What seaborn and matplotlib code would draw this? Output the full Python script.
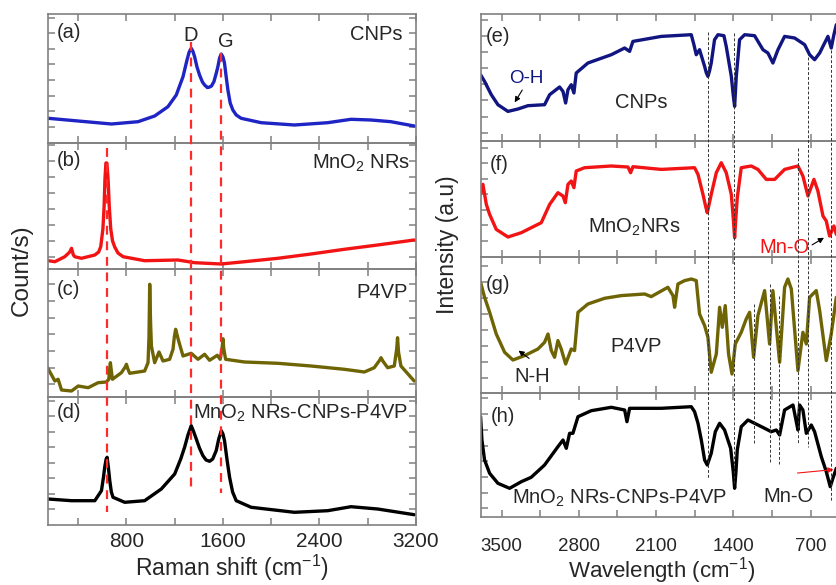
import numpy as np
import matplotlib
matplotlib.use('Agg')
import matplotlib.pyplot as plt
from matplotlib.ticker import MultipleLocator
import seaborn as sns

# ---- Raman spectra (wavenumber, height in arbitrary units) ----
cnp_raman_x = [152, 400, 676, 896, 1034, 1144, 1213, 1269, 1300, 1320, 1337, 1350, 1365, 1385, 1406,
               1430, 1448, 1470, 1484, 1505, 1525, 1545, 1558, 1572, 1586, 1600, 1613, 1627, 1641,
               1660, 1682, 1710, 1751, 1917, 2192, 2468, 2661, 2827, 2992, 3185]
cnp_raman_y = [24.7, 22, 19, 21.3, 27, 36.3, 48, 66.3, 82, 91, 94.7, 92, 86.3, 76, 68,
               61, 58, 55.5, 55.7, 57, 61.3, 70, 76.3, 85, 89, 86, 79.7, 66, 53,
               40, 33, 28, 24.7, 20.3, 18, 20.3, 23.7, 23, 21.3, 17]

mno2_raman_x = [152, 207, 289, 330, 345, 360, 372, 427, 538, 570, 587, 605, 615, 622, 630, 638,
                648, 658, 670, 685, 703, 730, 772, 951, 1227, 1365, 1586, 1779, 2055, 2330,
                2606, 2882, 3185]
mno2_raman_y = [8.3, 7.3, 12.3, 17, 20.7, 14, 12.3, 10.7, 14, 17, 22.3, 40, 62.3, 90, 106, 106,
                90, 62, 40, 28, 22, 16, 12.3, 8.3, 9, 6.3, 5, 7.3, 10.7, 15,
                19.7, 24, 29]

p4vp_raman_x = [146, 207, 234, 262, 345, 400, 483, 565, 634, 654, 661, 667, 673, 684, 758, 790, 800,
                812, 827, 951, 979, 987, 993, 1000, 1007, 1034, 1070, 1103, 1158, 1186, 1197, 1208,
                1220, 1233, 1269, 1337, 1393, 1448, 1489, 1553, 1577, 1594, 1600, 1607, 1622, 1779,
                2055, 2330, 2606, 2772, 2854, 2900, 2910, 2925, 2965, 3020, 3040, 3047, 3055, 3075,
                3185]
p4vp_raman_y = [29.3, 16, 17.7, 7, 6, 11, 9.3, 14.3, 15, 17.7, 28, 34.3, 28, 17.7, 24.3, 30, 32.7,
                28, 23.7, 26, 34.3, 60, 112.7, 75, 51, 34.3, 45, 36, 37.7, 47.7, 60, 67.7,
                62, 56, 41, 43.7, 37.7, 42.7, 36.7, 41.7, 37.7, 50, 58.3, 48, 37.7, 35,
                33.7, 31, 27.7, 25, 29.3, 37, 39.3, 36, 29.3, 31, 48, 59.3, 45, 31,
                16]

comp_raman_x = [152, 345, 538, 593, 610, 620, 632, 640, 650, 662, 675, 689, 786, 951, 1089, 1200,
                1250, 1282, 1310, 1337, 1355, 1379, 1405, 1434, 1460, 1489, 1515, 1544, 1565, 1586,
                1600, 1613, 1633, 1655, 1680, 1710, 1834, 2192, 2468, 2661, 2882, 3185]
comp_raman_y = [26, 24.3, 24.3, 34.3, 48, 57.7, 66, 67.7, 58, 44.3, 33, 27.7, 22.7, 24.3, 36, 51,
                66, 77.7, 90, 99.3, 94, 86, 77, 69.3, 65, 63.7, 66, 74.3, 86, 94.3,
                91, 84.3, 66, 47.7, 33, 24.3, 17.7, 12.7, 14.3, 18.3, 16, 10.3]

# ---- FTIR spectra ----
cnp_ir_x = [3691, 3655, 3594, 3534, 3443, 3352, 3262, 3111, 3065, 2975, 2944, 2920, 2899, 2869, 2845,
            2824, 2718, 2506, 2385, 2340, 2310, 2053, 1781, 1757, 1736, 1706, 1660, 1645, 1630, 1615,
            1600, 1570, 1539, 1485, 1464, 1418, 1400, 1388, 1380, 1373, 1343, 1297, 1207, 1131, 1086,
            1041, 995, 935, 844, 753, 708, 663, 617, 572, 542, 512, 488, 466]
cnp_ir_y = [66, 59.3, 46, 36, 29.3, 31.7, 35, 36, 46, 53.7, 49.3, 37.7, 51, 56, 47.7,
            67.7, 77.7, 86, 92.7, 89.3, 99.3, 104.3, 106, 96, 86, 91, 74.3, 68, 64.3, 70,
            77.7, 101, 106, 105, 94.3, 64.3, 45, 34.3, 50, 64.3, 101, 106, 105, 91, 87.7,
            77.7, 91, 104.3, 102.7, 96, 86, 81, 87.7, 97.7, 104.3, 92.7, 106, 116]

mno2_ir_x = [3691, 3670, 3639, 3609, 3549, 3443, 3322, 3232, 3141, 3065, 2990, 2944, 2923, 2899, 2869,
             2845, 2824, 2748, 2506, 2355, 2331, 2310, 2053, 1751, 1720, 1675, 1650, 1636, 1620, 1600,
             1554, 1509, 1464, 1418, 1400, 1388, 1376, 1364, 1328, 1237, 1177, 1101, 1025, 935, 814,
             769, 723, 669, 633, 587, 557, 527, 488, 466]
mno2_ir_y = [62.3, 72.3, 52.3, 42.3, 27.3, 19.7, 24, 29, 34, 52.3, 64, 60.7, 54, 72.3, 75.7,
             69, 85.7, 89, 90.7, 89.7, 84, 90, 87.3, 89, 82.3, 62.3, 50, 44, 52, 62.3,
             84, 94, 84, 62.3, 38, 19, 40, 59, 89, 90.7, 87.3, 77.3, 77.3, 87.3, 90.7,
             80.7, 60.7, 77.3, 65.7, 40.7, 35.7, 20.7, 30.7, 22.3]

p4vp_ir_x = [3691, 3655, 3609, 3549, 3473, 3398, 3292, 3171, 3111, 3080, 3050, 3020, 2990, 2960, 2920,
             2869, 2839, 2808, 2718, 2567, 2416, 2204, 2144, 1993, 1947, 1932, 1902, 1841, 1781, 1736,
             1706, 1660, 1630, 1600, 1554, 1524, 1500, 1473, 1443, 1412, 1382, 1328, 1283, 1252, 1216,
             1177, 1116, 1071, 1041, 980, 935, 905, 874, 814, 769, 738, 708, 648, 617, 557, 512, 466]
p4vp_ir_y = [111, 96, 81, 59.3, 41, 33.3, 37.7, 44.3, 51, 59.3, 42.7, 36, 52.7, 44.3, 29.3,
             44.3, 42.7, 81, 89.3, 95, 97.7, 99.3, 96.7, 106, 97.7, 86, 109.3, 112.7, 114.3, 112.7,
             79.3, 67.7, 56, 21, 39.3, 86, 66, 87.7, 39.3, 19.3, 49.3, 61, 74.3, 81, 36,
             77.7, 102.7, 49.3, 102.7, 31, 106, 114.3, 104.3, 22.7, 61, 49.3, 96, 102.7, 82.7, 32.7, 59.3, 96]

comp_ir_x = [3691, 3679, 3655, 3609, 3534, 3428, 3322, 3232, 3111, 2990, 2944, 2914, 2884, 2854, 2808,
             2688, 2506, 2385, 2364, 2340, 2053, 1781, 1751, 1720, 1690, 1660, 1636, 1600, 1563, 1524,
             1479, 1424, 1400, 1388, 1376, 1364, 1328, 1267, 1207, 1116, 1056, 1010, 980, 935, 859,
             829, 814, 799, 769, 738, 693, 663, 602, 557, 521, 497, 466]
comp_ir_y = [100.3, 77, 57, 43.7, 33.7, 28.7, 35.3, 39.7, 52, 70.3, 77, 68.7, 83.7, 83.7, 100.3,
             106.3, 109.7, 107, 95.3, 108.7, 108.7, 110.3, 105.3, 93.7, 77, 57, 52, 63.7, 85.3, 93.7,
             87, 68.7, 45, 28.7, 45, 67, 90.3, 97, 93.7, 88.7, 85.3, 87, 82, 107, 112,
             95.3, 87, 112, 107, 83.7, 92, 85.3, 60.3, 45.3, 30.3, 38.7, 48.7]

# marker lines
raman_marks = [640, 1338, 1585]
ir_marks = [1633, 1390, 1216, 1067, 988, 812, 722, 516, 470]

sns.set_style('ticks')
plt.rcParams['font.family'] = ['Liberation Sans', 'DejaVu Sans']
plt.rcParams['mathtext.fontset'] = 'custom'
plt.rcParams['mathtext.rm'] = 'Liberation Sans'
plt.rcParams['mathtext.it'] = 'Liberation Sans:italic'
plt.rcParams['mathtext.default'] = 'regular'

W, H = 837, 585
fig = plt.figure(figsize=(W / 100, H / 100), dpi=100)

def box(x0, x1, top, bot):
    return [x0 / W, (H - bot) / H, (x1 - x0) / W, (bot - top) / H]

spine_col = '#808080'

def style(ax, h, t0, step, right=False):
    ax.set_ylim(0, h)
    ax.set_yticks(np.arange(t0, h, step))
    ax.set_yticklabels([])
    ax.set_ylabel('')
    ax.set_xlabel('')
    for s in ax.spines.values():
        s.set_color(spine_col)
        s.set_linewidth(1.2)
    ax.tick_params(which='both', direction='in', top=True, right=True, color=spine_col,
                   length=5, width=1.1, labelsize=15 if not right else 13.5)
    ax.set_facecolor('none')

# ---- left column (Raman) ----
left_rows = [(14, 143), (143, 269), (269, 397), (397, 525)]
left_data = [(cnp_raman_x, cnp_raman_y, '#1f24c4'), (mno2_raman_x, mno2_raman_y, '#f21414'),
             (p4vp_raman_x, p4vp_raman_y, '#6e6404'), (comp_raman_x, comp_raman_y, '#000000')]
left_ticks = [(16.3, 15.6), (12.3, 15.9), (12.7, 16.7), (16, 15.5)]
left_axes = []
for (top, bot), (x, y, c), (t0, st) in zip(left_rows, left_data, left_ticks):
    ax = fig.add_axes(box(48, 416, top, bot))
    sns.lineplot(x=x, y=y, ax=ax, color=c, lw=2.4, estimator=None, sort=False)
    ax.set_xlim(150, 3200)
    ax.xaxis.set_major_locator(MultipleLocator(800))
    ax.xaxis.set_minor_locator(MultipleLocator(400))
    style(ax, bot - top, t0, st)
    left_axes.append(ax)
for ax in left_axes[:3]:
    ax.set_xticklabels([])
left_axes[3].tick_params(axis='x', pad=5)
left_axes[3].set_xlabel('Raman shift (cm$^{-1}$)', fontsize=16.5, labelpad=1)

lab = dict(fontsize=14.5)
a, b, c, d = left_axes
a.text(0.024, 0.857, '(a)', transform=a.transAxes, va='center', **lab)
a.text(0.962, 0.80, 'CNPs', transform=a.transAxes, ha='right', va='baseline', **lab)
a.text(1329, 101.7, 'D', ha='center', va='baseline', **lab)
a.text(1624, 95.7, 'G', ha='center', va='baseline', **lab)
b.text(0.024, 0.865, '(b)', transform=b.transAxes, va='center', **lab)
b.text(0.984, 0.80, 'MnO$_2$ NRs', transform=b.transAxes, ha='right', va='baseline', **lab)
c.text(0.024, 0.841, '(c)', transform=c.transAxes, va='center', **lab)
c.text(0.978, 0.776, 'P4VP', transform=c.transAxes, ha='right', va='baseline', **lab)
d.text(0.024, 0.875, '(d)', transform=d.transAxes, va='center', **lab)
d.text(0.978, 0.828, 'MnO$_2$ NRs-CNPs-P4VP', transform=d.transAxes, ha='right', va='baseline', **lab)

# ---- right column (FTIR) ----
right_rows = [(14, 140.7), (140.7, 256.7), (256.7, 393.3), (393.3, 517)]
right_data = [(cnp_ir_x, cnp_ir_y, '#111580'), (mno2_ir_x, mno2_ir_y, '#f21414'),
              (p4vp_ir_x, p4vp_ir_y, '#6e6404'), (comp_ir_x, comp_ir_y, '#000000')]
right_ticks = [(8, 16.1), (16, 15.5), (15.3, 15.95), (8.7, 15.7)]
right_axes = []
for (top, bot), (x, y, c), (t0, st) in zip(right_rows, right_data, right_ticks):
    ax = fig.add_axes(box(480.7, 843.6, top, bot))
    sns.lineplot(x=x, y=y, ax=ax, color=c, lw=2.4, estimator=None, sort=False)
    ax.set_xlim(3690, 400)
    ax.xaxis.set_major_locator(MultipleLocator(700))
    ax.xaxis.set_minor_locator(MultipleLocator(350))
    style(ax, bot - top, t0, st, right=True)
    right_axes.append(ax)
for ax in right_axes[:3]:
    ax.set_xticklabels([])
right_axes[3].tick_params(axis='x', pad=15)
right_axes[3].set_xlabel('Wavelength (cm$^{-1}$)', fontsize=16, labelpad=0)

e, f, g, h = right_axes
e.text(0.015, 0.82, '(e)', transform=e.transAxes, va='center', **lab)
e.text(2237, 38.7, 'CNPs', ha='center', va='center', **lab)
e.text(3280, 62.4, 'O-H', ha='center', va='center', color='#111580', fontsize=13.5)
e.annotate('', xy=(3395, 36), xytext=(3300, 53),
           arrowprops=dict(arrowstyle='-|>', color='black', lw=0.8, mutation_scale=8))
f.text(0.025, 0.793, '(f)', transform=f.transAxes, va='center', **lab)
f.text(2294, 23.7, 'MnO$_2$NRs', ha='center', va='baseline', **lab)
f.text(936, 3.7, 'Mn-O', ha='center', va='baseline', color='#f21414', **lab)
f.annotate('', xy=(556, 20.4), xytext=(707, 10.4),
           arrowprops=dict(arrowstyle='-|>', color='black', lw=0.8, mutation_scale=8))
g.text(0.015, 0.793, '(g)', transform=g.transAxes, va='center', **lab)
g.text(2280, 41, 'P4VP', ha='center', va='baseline', **lab)
g.text(3225, 11, 'N-H', ha='center', va='baseline', **lab)
g.annotate('', xy=(3368, 44.3), xytext=(3231, 33.3),
           arrowprops=dict(arrowstyle='-|>', color='black', lw=0.8, mutation_scale=8))
h.text(0.028, 0.811, '(h)', transform=h.transAxes, va='center', **lab)
h.text(2432, 13.7, 'MnO$_2$ NRs-CNPs-P4VP', ha='center', va='baseline', **lab)
h.text(904, 15.3, 'Mn-O', ha='center', va='baseline', **lab)
h.annotate('', xy=(466, 47.7), xytext=(843, 43.7),
           arrowprops=dict(arrowstyle='-|>', color='#f21414', lw=0.8, mutation_scale=8))

# ---- marker lines across panels (overlay axes, y in pixels from top) ----
ovl = fig.add_axes(box(48, 416, 0, H), zorder=10)
ovl.set_xlim(150, 3200)
ovl.set_ylim(H, 0)
ovl.axis('off')
ovl.vlines(raman_marks, [148, 42, 53], [512, 487, 493], colors='#ff2a2a', lw=1.6,
           linestyles=(0, (4, 3)))

ovr = fig.add_axes(box(480.7, 843.6, 0, H), zorder=10)
ovr.set_xlim(3690, 400)
ovr.set_ylim(H, 0)
ovr.axis('off')
ovr.vlines(ir_marks, [32, 33, 304, 284, 296, 148, 57, 50, 200],
           [478, 485, 445, 463, 464, 443, 447, 501, 493], colors='#333333', lw=0.7,
           linestyles=(0, (3, 2)))

fig.text(22 / W, 1 - 270 / H, 'Count/s)', rotation=90, ha='center', va='center', fontsize=17.5)
fig.text(448 / W, 1 - 245 / H, 'Intensity (a.u)', rotation=90, ha='center', va='center', fontsize=16.5)

fig.savefig('out.png', dpi=100)
